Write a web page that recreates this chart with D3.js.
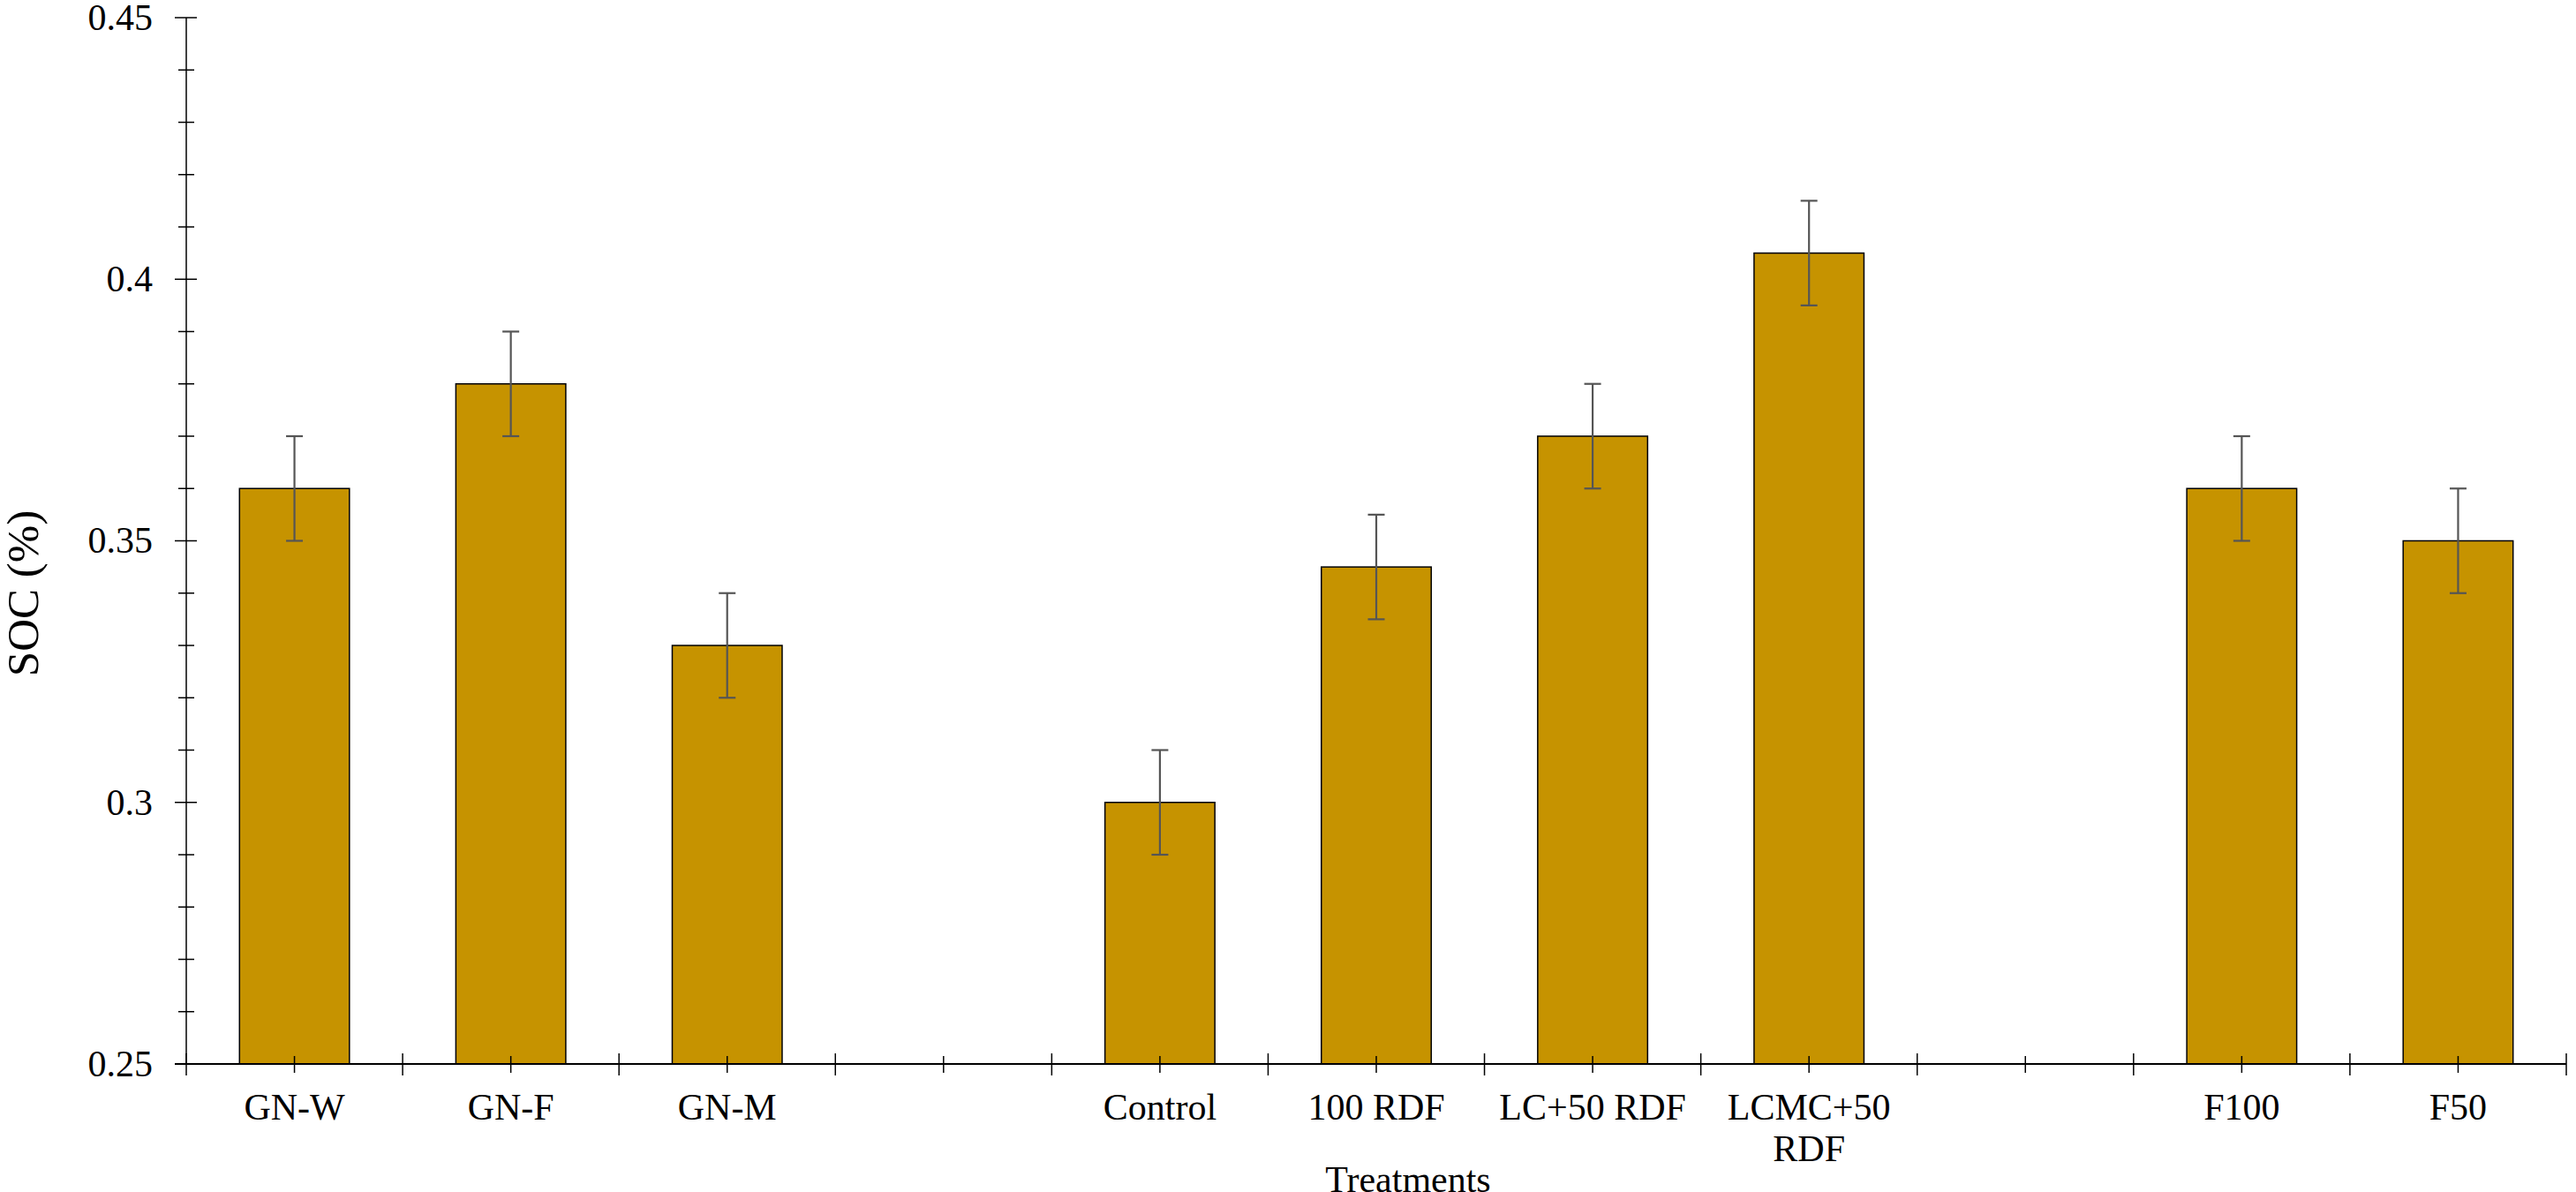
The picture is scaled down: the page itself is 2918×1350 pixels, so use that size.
<!DOCTYPE html>
<html>
<head>
<meta charset="utf-8">
<script src="https://cdn.jsdelivr.net/npm/d3@7"></script>
<style>
  body { margin: 0; background: #fff; }
  text { font-family: "Liberation Serif", "Times New Roman", serif; fill: #000; }
</style>
</head>
<body>
<svg id="chart" width="2918" height="1350"></svg>
<script>
// treatments, blanks are the gaps between groups
var categories = ["GN-W", "GN-F", "GN-M", "", "Control", "100 RDF", "LC+50 RDF", "LCMC+50\nRDF", "", "F100", "F50"];
var socValues  = [0.36, 0.38, 0.33, null, 0.30, 0.345, 0.37, 0.405, null, 0.36, 0.35];
var socErrors  = [0.01, 0.01, 0.01, null, 0.01, 0.01, 0.01, 0.01, null, 0.01, 0.01];
var majorTicks = [0.25, 0.30, 0.35, 0.40, 0.45];

var plotLeft = 211, plotRight = 2907
  , plotTop = 20, plotBottom = 1205;

var svg = d3.select("#chart");

var x = d3.scaleBand()
    .domain(d3.range(categories.length))
    .range([plotLeft, plotRight])
    .padding(0);

var y = d3.scaleLinear()
    .domain([0.25, 0.45])
    .range([plotBottom, plotTop]);

var barW = x.bandwidth() * 0.508;

// bars
var rows = categories.map(function(c, i){
  return {i: i, name: c, v: socValues[i], e: socErrors[i]};
}).filter(d => d.v != null);

svg.append("g").selectAll("rect")
    .data(rows)
  .enter().append("rect")
    .attr("x", d => x(d.i) + x.bandwidth()/2 - barW/2)
    .attr("y", d => y(d.v))
    .attr("width", barW)
    .attr("height", d => y(0.25) - y(d.v))
    .attr("fill", "#c69300")
    .attr("stroke", "#000")
    .attr("stroke-width", 1.5);

// error bars
var eb = svg.append("g").attr("stroke", "#555").attr("stroke-width", 2.2);
rows.forEach(function(d){
  var cx = x(d.i) + x.bandwidth()/2;
  eb.append("line").attr("x1", cx).attr("x2", cx).attr("y1", y(d.v + d.e)).attr("y2", y(d.v - d.e));
  eb.append("line").attr("x1", cx - 9.5).attr("x2", cx + 9.5).attr("y1", y(d.v + d.e)).attr("y2", y(d.v + d.e));
  eb.append("line").attr("x1", cx - 9.5).attr("x2", cx + 9.5).attr("y1", y(d.v - d.e)).attr("y2", y(d.v - d.e));
});

// y axis
var ya = svg.append("g").attr("stroke", "#000");
ya.append("line").attr("x1", plotLeft).attr("x2", plotLeft).attr("y1", y(0.45)).attr("y2", y(0.25)).attr("stroke-width", 1.5);
d3.range(25, 46).map(d => d/100).forEach(function(t){
  var major = majorTicks.some(m => Math.abs(m - t) < 1e-9);
  ya.append("line")
    .attr("x1", major ? plotLeft - 13 : plotLeft - 9)
    .attr("x2", major ? plotLeft + 12 : plotLeft + 9)
    .attr("y1", y(t)).attr("y2", y(t))
    .attr("stroke-width", 1.5);
});
svg.append("g").selectAll("text")
    .data(majorTicks)
  .enter().append("text")
    .attr("x", plotLeft - 38)
    .attr("y", d => y(d))
    .attr("dy", "0.33em")
    .attr("text-anchor", "end")
    .style("font-size", "42px")
    .text(d => String(+d.toFixed(2)));

// x axis
var xa = svg.append("g").attr("stroke", "#000");
xa.append("line").attr("x1", plotLeft - 13).attr("x2", plotRight).attr("y1", plotBottom).attr("y2", plotBottom).attr("stroke-width", 2);
d3.range(categories.length + 1).forEach(function(k){
  var bx = plotLeft + k * x.step();
  xa.append("line").attr("x1", bx).attr("x2", bx).attr("y1", plotBottom - 12).attr("y2", plotBottom + 13).attr("stroke-width", 1.5);
});
d3.range(categories.length).forEach(function(k){
  var cx = x(k) + x.bandwidth()/2;
  xa.append("line").attr("x1", cx).attr("x2", cx).attr("y1", plotBottom - 9).attr("y2", plotBottom + 10).attr("stroke-width", 1.5);
});

// category labels
svg.append("g").selectAll("text")
    .data(categories.map((c, i) => ({i: i, name: c})))
  .enter().append("text")
    .attr("text-anchor", "middle")
    .style("font-size", "42px")
    .each(function(d){
      var t = d3.select(this);
      d.name.split("\n").forEach(function(line, j){
        t.append("tspan")
          .attr("x", x(d.i) + x.bandwidth()/2)
          .attr("y", 1268 + j*47)
          .text(line);
      });
    });

// axis titles
svg.append("text")
    .attr("x", 1595)
    .attr("y", 1350)
    .attr("text-anchor", "middle")
    .style("font-size", "42px")
    .text("Treatments");

svg.append("text")
    .attr("transform", "translate(43,672) rotate(-90)")
    .attr("text-anchor", "middle")
    .style("font-size", "51px")
    .text("SOC (%)");
</script>
</body>
</html>
